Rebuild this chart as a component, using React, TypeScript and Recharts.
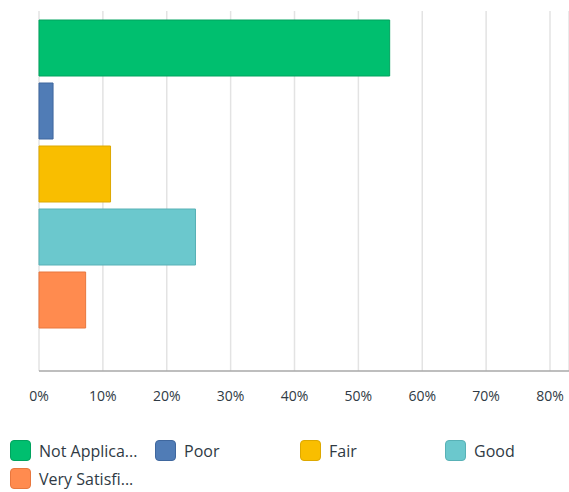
import { BarChart, Bar, XAxis, YAxis, CartesianGrid } from "recharts";

const categories = ["Not Applicable", "Poor", "Fair", "Good", "Very Satisfied"];
const legendLabels = ["Not Applica...", "Poor", "Fair", "Good", "Very Satisfi..."];
const percentages = [54.9, 2.2, 11.2, 24.5, 7.3];
const xTicks = [0, 10, 20, 30, 40, 50, 60, 70, 80];

const fills = ["#00BF6F", "#507CB6", "#F9BE00", "#6BC8CD", "#FF8B4F"];
const strokes = ["#00A35E", "#3F679E", "#DDA800", "#58B1B6", "#E8773E"];

const FONT = "'Open Sans', 'Noto Sans', sans-serif";

// single row, one key per answer choice
const row: Record<string, number | string> = { question: "Q1" };
categories.forEach((c, i) => {
  row[c] = percentages[i];
});
const data = [row];

function LegendBlock() {
  return (
    <div
      style={{
        position: "absolute",
        left: 10,
        top: 440,
        display: "grid",
        gridTemplateColumns: "repeat(4, 145px)",
        rowGap: 7,
        fontFamily: FONT,
        fontSize: 16,
        color: "#2f3a44",
      }}
    >
      {legendLabels.map((label, i) => (
        <div key={label} style={{ display: "flex", alignItems: "center", height: 21 }}>
          <span
            style={{
              width: 21,
              height: 21,
              borderRadius: 4,
              background: fills[i],
              boxSizing: "border-box",
              border: `1px solid ${strokes[i]}`,
              marginRight: 8,
              flexShrink: 0,
            }}
          />
          <span>{label}</span>
        </div>
      ))}
    </div>
  );
}

export default function App() {
  return (
    <div style={{ position: "absolute", left: 0, top: 0, width: 569, height: 492, background: "#fff" }}>
      <BarChart
        width={569}
        height={420}
        data={data}
        layout="vertical"
        margin={{ top: 11, right: 0, bottom: 19, left: 39 }}
        barSize={56}
        barGap={7}
      >
        <CartesianGrid horizontal={false} stroke="#e3e3e3" strokeWidth={1.5} />
        <XAxis
          type="number"
          domain={[0, 80]}
          ticks={xTicks}
          padding={{ right: 19 }}
          tickFormatter={(v) => `${v}%`}
          tickLine={false}
          tickMargin={14}
          height={30}
          axisLine={{ stroke: "#a8a8a8", strokeWidth: 1.5 }}
          tick={{ fill: "#2f3a44", fontSize: 14, fontFamily: FONT }}
          interval={0}
        />
        <YAxis
          type="category"
          dataKey="question"
          width={0}
          tick={false}
          tickLine={false}
          padding={{ top: 0, bottom: 35 }}
          axisLine={{ stroke: "#a8a8a8", strokeWidth: 1.5 }}
        />
        {categories.map((c, i) => (
          <Bar
            key={c}
            dataKey={c}
            fill={fills[i]}
            stroke={strokes[i]}
            strokeWidth={1}
            isAnimationActive={false}
          />
        ))}
      </BarChart>
      <LegendBlock />
    </div>
  );
}
